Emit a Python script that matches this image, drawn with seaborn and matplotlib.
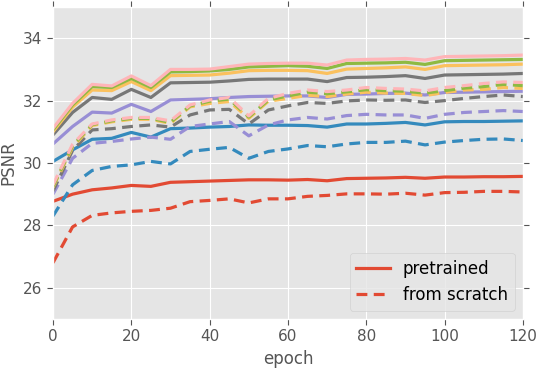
import matplotlib
matplotlib.use("Agg")
import matplotlib.pyplot as plt
from matplotlib.lines import Line2D
import numpy as np
import pandas as pd
import seaborn as sns

epochs = list(range(0, 121, 5))
variants = ["red", "blue", "purple", "gray", "yellow", "green", "pink"]
colors = ["#E24A33", "#348ABD", "#988ED5", "#777777", "#FBC15E", "#8EBA42", "#FFB5B8"]

pretrained = {
    "red": [28.77, 29.0, 29.14, 29.2, 29.28, 29.25, 29.38, 29.4, 29.42, 29.44, 29.46, 29.46, 29.45,
            29.47, 29.43, 29.5, 29.51, 29.52, 29.54, 29.51, 29.55, 29.55, 29.56, 29.56, 29.57],
    "blue": [30.05, 30.42, 30.76, 30.79, 30.98, 30.83, 31.1, 31.12, 31.15, 31.17, 31.22, 31.21, 31.21,
             31.2, 31.15, 31.25, 31.25, 31.27, 31.3, 31.22, 31.32, 31.33, 31.33, 31.34, 31.35],
    "purple": [30.61, 31.17, 31.63, 31.6, 31.88, 31.65, 32.02, 32.04, 32.06, 32.1, 32.13, 32.14, 32.15,
               32.15, 32.1, 32.2, 32.21, 32.23, 32.24, 32.18, 32.26, 32.27, 32.28, 32.29, 32.3],
    "gray": [30.9, 31.62, 32.1, 32.04, 32.36, 32.1, 32.57, 32.58, 32.59, 32.63, 32.68, 32.69, 32.69,
             32.69, 32.61, 32.74, 32.75, 32.77, 32.8, 32.71, 32.82, 32.83, 32.84, 32.85, 32.87],
    "yellow": [31.0, 31.79, 32.34, 32.32, 32.61, 32.32, 32.8, 32.81, 32.82, 32.88, 32.96, 32.97, 32.97,
               32.96, 32.87, 33.01, 33.03, 33.05, 33.08, 33.0, 33.12, 33.13, 33.14, 33.15, 33.17],
    "green": [31.06, 31.86, 32.45, 32.42, 32.71, 32.42, 32.92, 32.93, 32.95, 33.0, 33.08, 33.1, 33.12,
              33.1, 33.03, 33.19, 33.2, 33.21, 33.23, 33.16, 33.28, 33.29, 33.3, 33.31, 33.32],
    "pink": [31.11, 31.91, 32.52, 32.47, 32.79, 32.48, 33.0, 33.0, 33.01, 33.09, 33.17, 33.19, 33.2,
             33.2, 33.14, 33.3, 33.32, 33.33, 33.35, 33.3, 33.41, 33.42, 33.43, 33.44, 33.46],
}

scratch = {
    "red": [26.8, 27.95, 28.32, 28.4, 28.45, 28.48, 28.55, 28.76, 28.8, 28.85, 28.72, 28.85, 28.85,
            28.93, 28.96, 29.01, 29.01, 29.0, 29.03, 28.97, 29.05, 29.06, 29.09, 29.09, 29.07],
    "blue": [28.3, 29.3, 29.76, 29.89, 29.94, 30.05, 29.97, 30.37, 30.44, 30.5, 30.15, 30.37, 30.45,
             30.56, 30.52, 30.61, 30.66, 30.66, 30.7, 30.58, 30.67, 30.72, 30.76, 30.77, 30.72],
    "purple": [29.0, 30.15, 30.63, 30.69, 30.77, 30.83, 30.76, 31.17, 31.25, 31.33, 30.87, 31.22, 31.38,
               31.46, 31.41, 31.52, 31.56, 31.54, 31.54, 31.43, 31.56, 31.62, 31.65, 31.68, 31.65],
    "gray": [29.1, 30.4, 31.06, 31.1, 31.17, 31.22, 31.15, 31.54, 31.7, 31.72, 31.25, 31.7, 31.83,
             31.94, 31.91, 31.99, 32.02, 32.01, 32.02, 31.94, 32.0, 32.07, 32.13, 32.18, 32.13],
    "yellow": [29.22, 30.5, 31.2, 31.32, 31.4, 31.4, 31.27, 31.8, 31.91, 31.97, 31.43, 31.98, 32.07,
               32.17, 32.13, 32.21, 32.27, 32.24, 32.23, 32.16, 32.26, 32.34, 32.36, 32.42, 32.39],
    "green": [29.25, 30.55, 31.23, 31.35, 31.43, 31.43, 31.3, 31.83, 31.98, 32.05, 31.47, 32.02, 32.15,
              32.27, 32.22, 32.28, 32.35, 32.32, 32.3, 32.24, 32.32, 32.4, 32.45, 32.52, 32.48],
    "pink": [29.3, 30.6, 31.25, 31.38, 31.46, 31.46, 31.35, 31.86, 32.02, 32.1, 31.51, 32.07, 32.23,
             32.34, 32.29, 32.34, 32.42, 32.39, 32.37, 32.31, 32.42, 32.48, 32.55, 32.6, 32.58],
}

rows = []
for v in variants:
    for init, table in (("pretrained", pretrained), ("from scratch", scratch)):
        for e, p in zip(epochs, table[v]):
            rows.append({"epoch": e, "psnr": p, "variant": v, "init": init})
df = pd.DataFrame(rows)

plt.style.use("ggplot")
fig = plt.figure(figsize=(5.38, 3.70), dpi=100)
ax = fig.add_axes([0.0985, 0.138, 0.8735, 0.843])

dash = (3.4, 2.0)
for v, c in zip(variants, colors):
    sub = df[df["variant"] == v]
    sns.lineplot(data=sub[sub["init"] == "pretrained"], x="epoch", y="psnr", color=c,
                 linewidth=2.3, ax=ax, legend=False)
    sns.lineplot(data=sub[sub["init"] == "from scratch"], x="epoch", y="psnr", color=c,
                 linewidth=2.3, dashes=dash, ax=ax, legend=False)
    ax.lines[-1].set_dashes(dash)

ax.set_xlim(0, 120)
ax.set_ylim(25, 35)
ax.set_xticks(np.arange(0, 121, 20))
ax.set_yticks([26, 28, 30, 32, 34])
ax.tick_params(labelsize=11, colors="#555555", top=True, right=True,
               direction="out", length=4, width=0.8)
ax.set_xlabel("epoch", fontsize=12, color="#555555")
ax.set_ylabel("PSNR", fontsize=12, color="#555555")

handles = [Line2D([], [], color=colors[0], lw=2.3),
           Line2D([], [], color=colors[0], lw=2.3, dashes=dash)]
ax.legend(handles, ["pretrained", "from scratch"], loc="lower right", fontsize=12)

fig.savefig("out.png", dpi=100)
